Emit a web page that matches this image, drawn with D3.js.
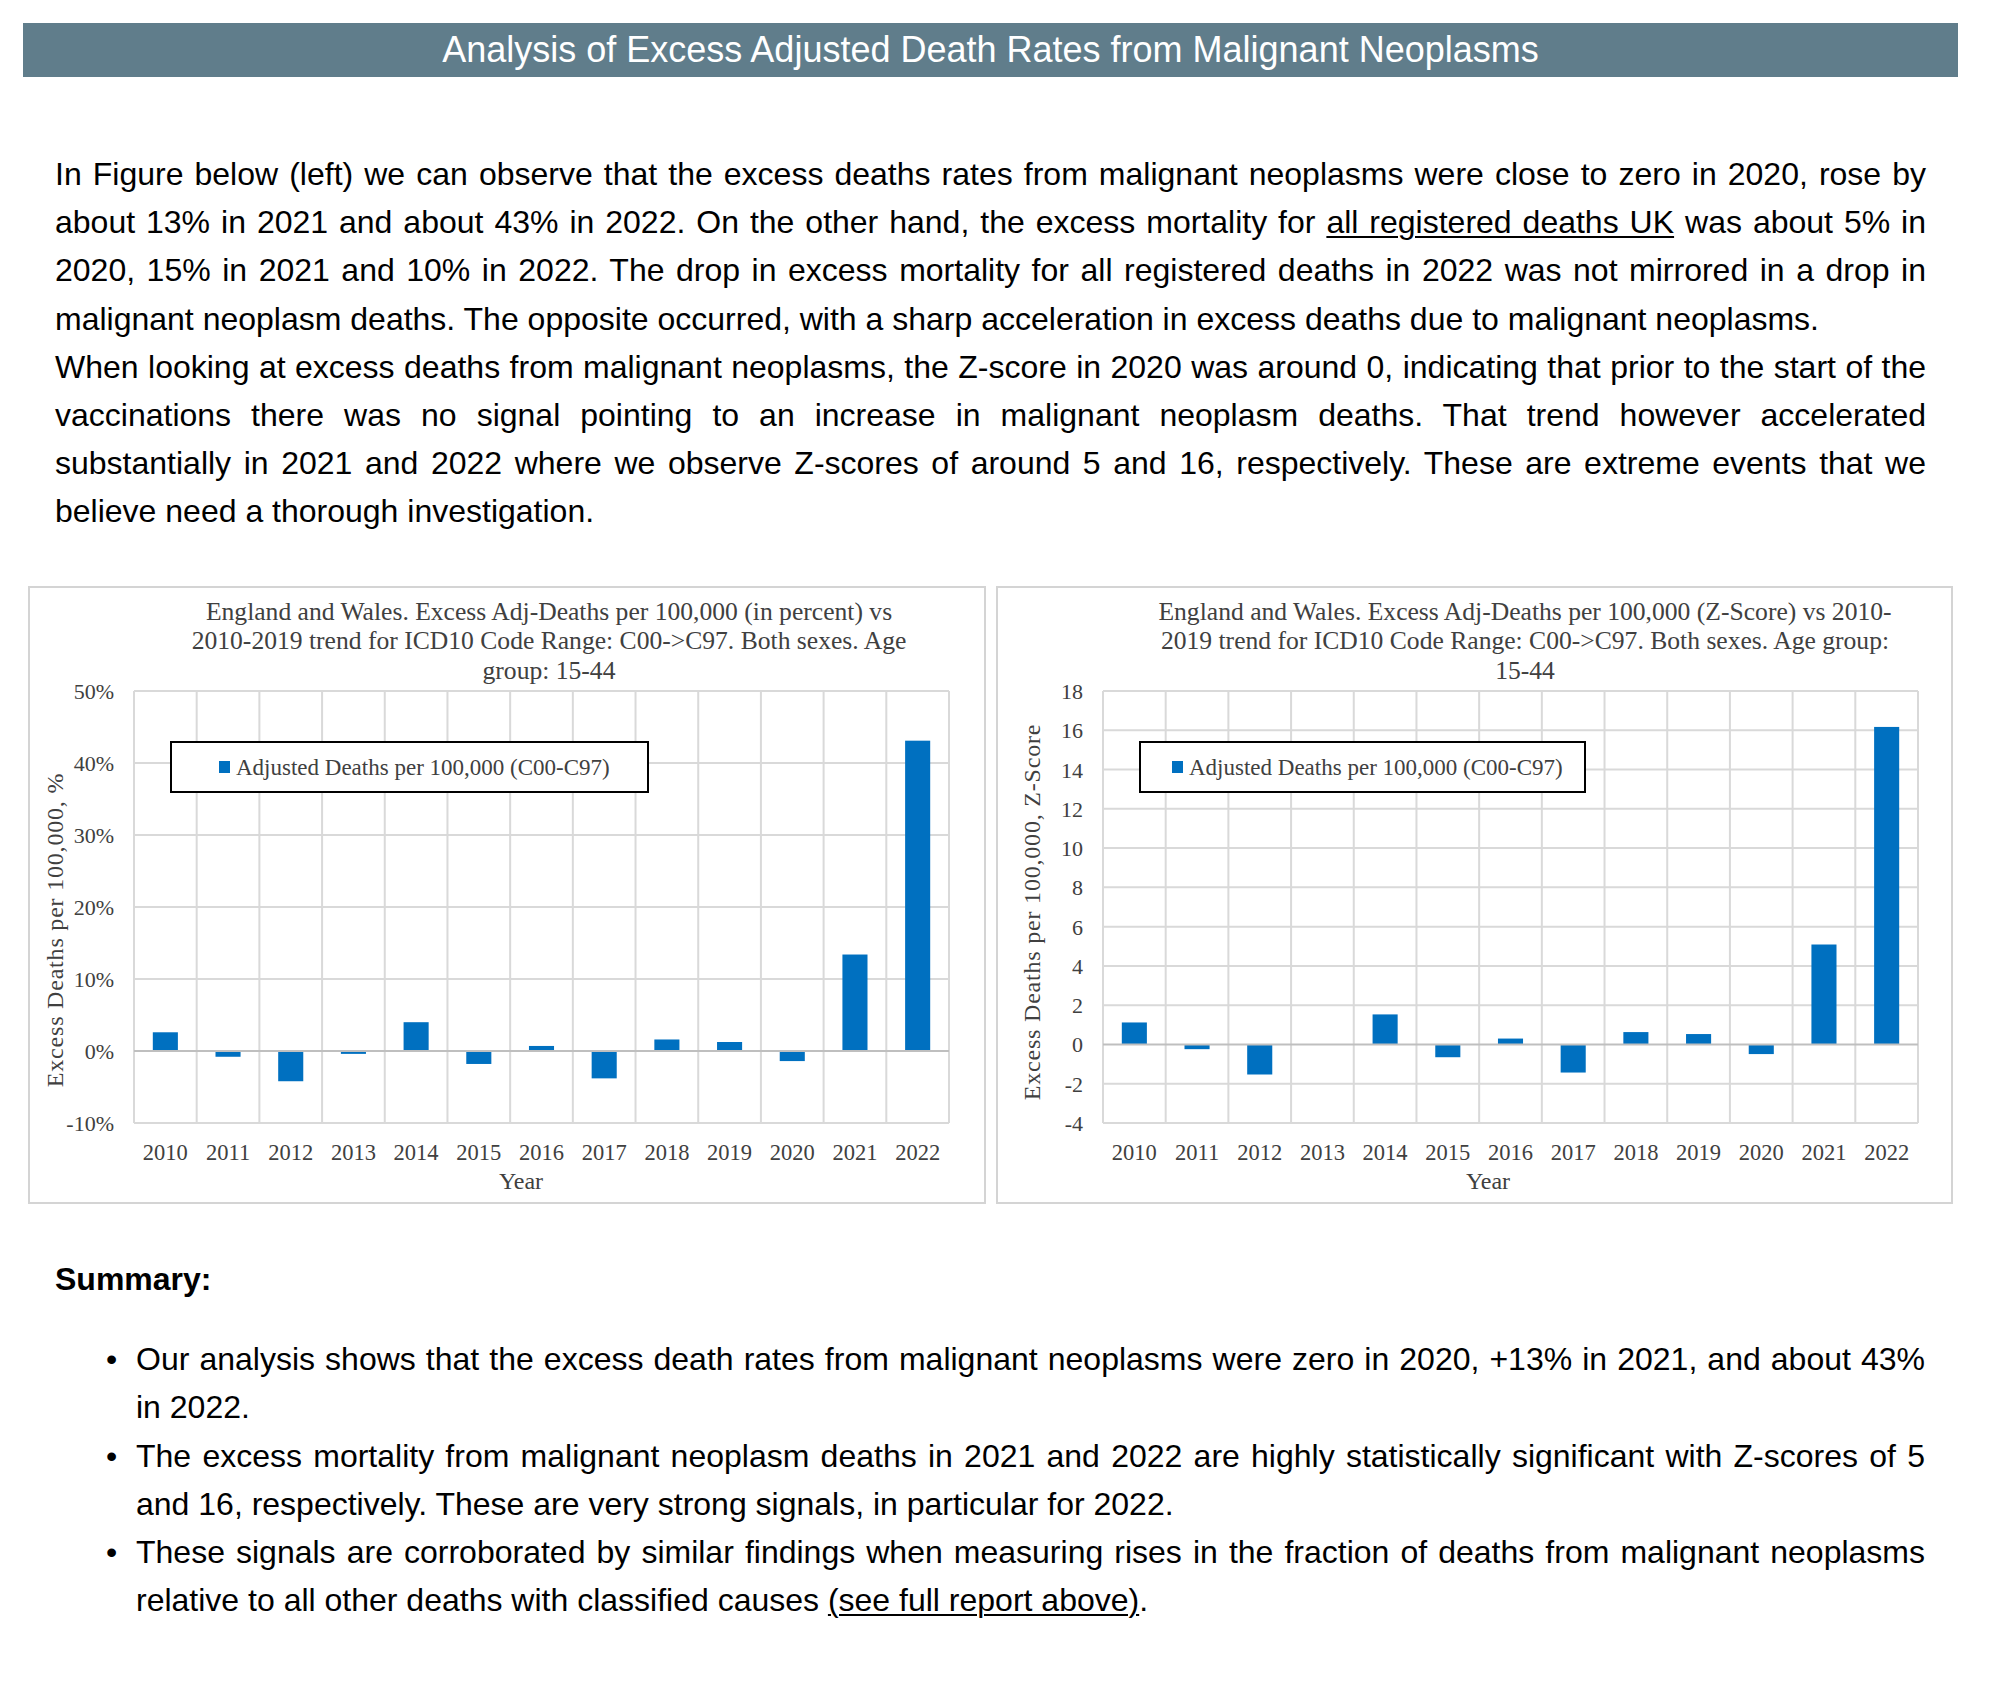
<!DOCTYPE html>
<html>
<head>
<meta charset="utf-8">
<script src="https://cdn.jsdelivr.net/npm/d3@7/dist/d3.min.js"></script>
<style>
  html, body { margin:0; padding:0; background:#fff; }
  body { width:1990px; height:1704px; position:relative; overflow:hidden; font-family: Arial, "Liberation Sans", sans-serif; color:#000; }
  #header { position:absolute; left:23px; top:23px; width:1935px; height:54px; background:#607d8b; color:#fff;
            font-size:36px; line-height:54px; text-align:center; }
  .blk { position:absolute; font-size:32px; line-height:48.2px; }
  .ln { height:48.2px; white-space:normal; }
  .j { text-align:justify; text-align-last:justify; }
  u { text-decoration:underline; text-underline-offset:3px; text-decoration-thickness:2px; }
  .bul { position:absolute; font-size:32px; line-height:48.2px; }
  svg { position:absolute; left:0; top:0; }
</style>
</head>
<body>
<div id="header">Analysis of Excess Adjusted Death Rates from Malignant Neoplasms</div>

<div class="blk" style="left:55px; top:150px; width:1871px;">
  <div class="ln j">In Figure below (left) we can observe that the excess deaths rates from malignant neoplasms were close to zero in 2020, rose by</div>
  <div class="ln j">about 13% in 2021 and about 43% in 2022. On the other hand, the excess mortality for <u>all registered deaths UK</u> was about 5% in</div>
  <div class="ln j">2020, 15% in 2021 and 10% in 2022. The drop in excess mortality for all registered deaths in 2022 was not mirrored in a drop in</div>
  <div class="ln">malignant neoplasm deaths. The opposite occurred, with a sharp acceleration in excess deaths due to malignant neoplasms.</div>
  <div class="ln j">When looking at excess deaths from malignant neoplasms, the Z-score in 2020 was around 0, indicating that prior to the start of the</div>
  <div class="ln j">vaccinations there was no signal pointing to an increase in malignant neoplasm deaths. That trend however accelerated</div>
  <div class="ln j">substantially in 2021 and 2022 where we observe Z-scores of around 5 and 16, respectively. These are extreme events that we</div>
  <div class="ln">believe need a thorough investigation.</div>
</div>

<div class="blk" style="left:55px; top:1255px; font-weight:bold;">Summary:</div>

<div class="bul" style="left:106px; top:1335px;">•</div>
<div class="blk" style="left:136px; top:1335px; width:1789px;">
  <div class="ln j">Our analysis shows that the excess death rates from malignant neoplasms were zero in 2020, +13% in 2021, and about 43%</div>
  <div class="ln">in 2022.</div>
</div>
<div class="bul" style="left:106px; top:1432px;">•</div>
<div class="blk" style="left:136px; top:1432px; width:1789px;">
  <div class="ln j">The excess mortality from malignant neoplasm deaths in 2021 and 2022 are highly statistically significant with Z-scores of 5</div>
  <div class="ln">and 16, respectively. These are very strong signals, in particular for 2022.</div>
</div>
<div class="bul" style="left:106px; top:1528px;">•</div>
<div class="blk" style="left:136px; top:1528px; width:1789px;">
  <div class="ln j">These signals are corroborated by similar findings when measuring rises in the fraction of deaths from malignant neoplasms</div>
  <div class="ln">relative to all other deaths with classified causes <u>(see full report above)</u>.</div>
</div>

<svg id="charts" width="1990" height="1704"></svg>

<script>
// ---------------- DATA ----------------
const years = ["2010","2011","2012","2013","2014","2015","2016","2017","2018","2019","2020","2021","2022"];
const excessPercent = [2.6, -0.8, -4.2, -0.4, 4.0, -1.8, 0.7, -3.8, 1.6, 1.25, -1.4, 13.4, 43.1];
const excessZScore = [1.12, -0.24, -1.53, -0.02, 1.53, -0.65, 0.3, -1.43, 0.63, 0.53, -0.49, 5.09, 16.17];
const percentTicks = [-10, 0, 10, 20, 30, 40, 50];
const zTicks = [-4, -2, 0, 2, 4, 6, 8, 10, 12, 14, 16, 18];
const seriesName = "Adjusted Deaths per 100,000 (C00-C97)";
const leftTitle = ["England and Wales. Excess Adj-Deaths per 100,000 (in percent) vs",
                   "2010-2019 trend for ICD10 Code Range: C00->C97. Both sexes. Age",
                   "group: 15-44"];
const rightTitle = ["England and Wales. Excess Adj-Deaths per 100,000 (Z-Score) vs 2010-",
                    "2019 trend for ICD10 Code Range: C00->C97. Both sexes. Age group:",
                    "15-44"];
const leftYLabel = "Excess Deaths per 100,000, %";
const rightYLabel = "Excess Deaths per 100,000, Z-Score";
const xLabel = "Year";

// ---------------- DRAW ----------------
const svg = d3.select("#charts");
const SERIF = "'Liberation Serif', 'Times New Roman', serif";
const TXT = "#404040";
const GRID = "#d9d9d9";
const BAR = "#0070c0";

function drawChart(o) {
  const g = svg.append("g");
  g.append("rect").attr("x", o.box[0]).attr("y", o.box[1])
    .attr("width", o.box[2] - o.box[0]).attr("height", o.box[3] - o.box[1])
    .attr("fill", "#fff").attr("stroke", "#d4d4d4").attr("stroke-width", 2);

  const x = d3.scaleBand().domain(years).range([o.plot[0], o.plot[1]]).padding(0);
  const y = d3.scaleLinear().domain([o.ticks[0], o.ticks[o.ticks.length - 1]]).range([o.plot[3], o.plot[2]]);

  g.append("g").selectAll("line").data(o.ticks.filter(t => t !== 0)).join("line")
    .attr("x1", o.plot[0]).attr("x2", o.plot[1])
    .attr("y1", d => y(d)).attr("y2", d => y(d))
    .attr("stroke", GRID).attr("stroke-width", 2);
  const bounds = years.map(d => x(d)).concat([o.plot[1]]);
  g.append("g").selectAll("line").data(bounds).join("line")
    .attr("x1", d => d).attr("x2", d => d)
    .attr("y1", y(o.ticks[o.ticks.length - 1])).attr("y2", y(o.ticks[0]))
    .attr("stroke", GRID).attr("stroke-width", 2);

  const bw = x.bandwidth() * 0.4;
  g.append("g").selectAll("rect").data(years.map((d, i) => ({ year: d, v: o.values[i] }))).join("rect")
    .attr("x", d => x(d.year) + (x.bandwidth() - bw) / 2)
    .attr("width", bw)
    .attr("y", d => Math.min(y(d.v), y(0)))
    .attr("height", d => Math.abs(y(d.v) - y(0)))
    .attr("fill", BAR);

  g.append("line").attr("x1", o.plot[0]).attr("x2", o.plot[1])
    .attr("y1", y(0)).attr("y2", y(0)).attr("stroke", "#bfbfbf").attr("stroke-width", 2);

  const ya = g.append("g").attr("transform", `translate(${o.plot[0]},0)`)
    .call(d3.axisLeft(y).tickValues(o.ticks).tickFormat(o.fmt).tickSize(0).tickPadding(20));
  ya.select(".domain").remove();
  ya.selectAll("text").attr("font-family", SERIF).attr("font-size", 22).attr("fill", TXT).attr("dy", "0.34em");

  const xa = g.append("g").attr("transform", `translate(0,${o.plot[3]})`)
    .call(d3.axisBottom(x).tickSize(0));
  xa.select(".domain").remove();
  xa.selectAll("text").attr("font-family", SERIF).attr("font-size", 22.5).attr("fill", TXT)
    .attr("y", 29).attr("dy", "0.34em");

  g.append("text").attr("x", o.yearX).attr("y", 1181).attr("dy", "0.34em")
    .attr("text-anchor", "middle").attr("font-family", SERIF).attr("font-size", 24).attr("fill", TXT)
    .text(xLabel);

  g.append("text").attr("transform", `translate(${o.ylabX},${o.ylabY}) rotate(-90)`)
    .attr("dy", "0.32em").attr("text-anchor", "middle")
    .attr("font-family", SERIF).attr("font-size", 24).attr("letter-spacing", 0.8).attr("fill", TXT)
    .text(o.ylab);

  g.append("g").selectAll("text").data(o.title).join("text")
    .attr("x", o.titleX).attr("y", (d, i) => 611 + i * 29.6).attr("dy", "0.34em")
    .attr("text-anchor", "middle").attr("font-family", SERIF).attr("font-size", 25.6).attr("fill", TXT)
    .text(d => d);

  const lg = g.append("g");
  lg.append("rect").attr("x", o.legend[0]).attr("y", 742).attr("width", o.legend[1] - o.legend[0]).attr("height", 50)
    .attr("fill", "#fff").attr("stroke", "#000").attr("stroke-width", 2);
  lg.append("rect").attr("x", o.legend[2]).attr("y", 761).attr("width", 11).attr("height", 12).attr("fill", BAR);
  lg.append("text").attr("x", o.legend[2] + 17).attr("y", 767).attr("dy", "0.34em")
    .attr("font-family", SERIF).attr("font-size", 23).attr("fill", TXT).text(seriesName);
}

drawChart({
  box: [29, 587, 985, 1203],
  plot: [134, 949, 691, 1123],
  ticks: percentTicks, values: excessPercent, fmt: d => d + "%",
  title: leftTitle, titleX: 549, ylab: leftYLabel, ylabX: 55, ylabY: 930, yearX: 521,
  legend: [171, 648, 219]
});
drawChart({
  box: [997, 587, 1952, 1203],
  plot: [1103, 1918, 691, 1123],
  ticks: zTicks, values: excessZScore, fmt: d => String(d),
  title: rightTitle, titleX: 1525, ylab: rightYLabel, ylabX: 1032, ylabY: 912, yearX: 1488,
  legend: [1140, 1585, 1172]
});
</script>
</body>
</html>
